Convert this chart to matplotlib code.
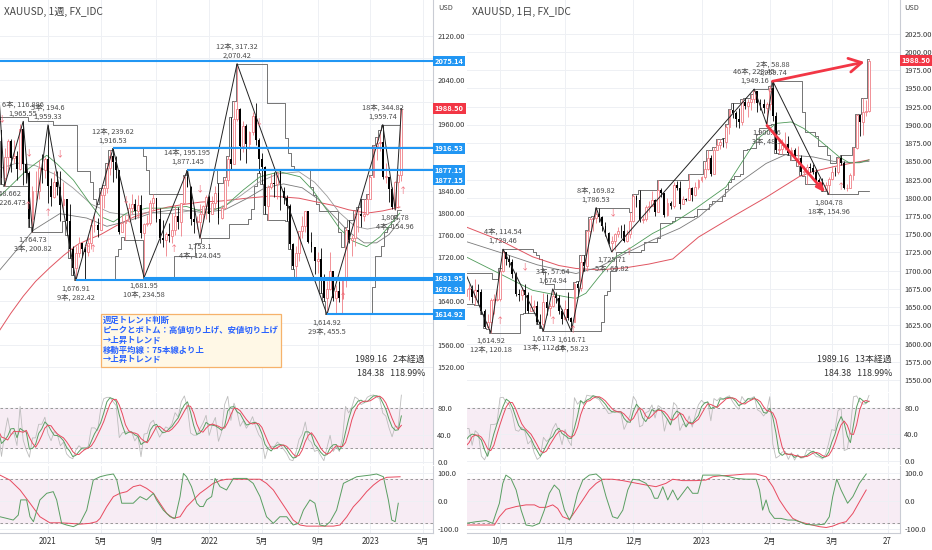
import matplotlib
matplotlib.use('Agg')
import matplotlib.pyplot as plt
import matplotlib.transforms as mtransforms
import numpy as np
import pandas as pd

plt.rcParams['font.family'] = ['Noto Sans CJK JP', 'DejaVu Sans']

# ---------------- weekly data (XAUUSD 1W) ----------------
w_open0 = 1940
w_close = [1950,1862,1900,1930,1899,1902,1879,1951,1889,1871,1788,1839,1839,1881,1877,1898,
           1849,1828,1855,1847,1813,1824,1784,1734,1700,1727,1745,1733,1728,1744,1777,1777,1769,1831,1844,1881,
           1903,1891,1877,1764,1781,1784,1808,1815,1802,1814,1763,1779,1781,1817,1827,1788,
           1754,1750,1761,1757,1768,1793,1783,1818,1864,1846,1788,1783,1783,1798,1811,1829,
           1797,1818,1835,1791,1808,1859,1898,1889,1970,1988,1921,1958,1925,1946,1975,1931,1897,1883,1811,1846,
           1853,1851,1871,1840,1827,1811,1742,1703,1727,1766,1775,1802,1747,1738,1712,1716,1675,1644,1661,1694,
           1644,1657,1644,1681,1769,1751,1754,1797,1797,1793,1798,1824,
           1865,1920,1926,1928,1865,1865,1842,1810,1856,1868,1988]
w_high = [1973,1947,1917,1933,1933,1932,1911,1960,1965.55,1892,1875,1848,1875,1896,1906,1900,
          1959.33,1863,1875,1875,1875,1855,1822,1816,1739,1740,1755,1745,1740,1758,1789,1797,1790,1845,1850,1890,
          1913,1916.53,1903,1878,1795,1795,1818,1834,1825,1832,1831,1781,1795,1823,1834,1827,
          1809,1787,1765,1781,1800,1813,1810,1818,1868,1877.145,1849,1808,1793,1815,1814,1831,
          1832,1830,1848,1853,1814,1865,1902,1974,2002,2070.42,1989,1966,1960,1948,1982,1998,1935,1909,1885,1850,
          1870,1874,1876,1879,1847,1832,1815,1745,1739,1767,1794,1802,1802,1765,1736,1729,1735,1688,1676,1729,
          1689,1669,1675,1682,1773,1787,1760,1804,1810,1824,1824,1833,
          1869,1922,1937,1949,1959.74,1890,1863,1846,1858,1870,1990]
w_low = [1930,1852,1848.66,1873,1873,1890,1860,1877,1850,1853,1774,1764.73,1823,1824,1854,1863,
         1817,1812,1826,1832,1785,1806,1760,1717,1687,1676.91,1719,1720,1678,1721,1733,1764,1756,1768,1808,1835,
         1868,1855,1862,1761,1770,1750,1783,1797,1789,1790,1753,1681.95,1775,1778,1803,1782,
         1745,1737,1721,1746,1745,1760,1771,1758,1818,1846,1778,1762,1770,1753.1,1785,1789,
         1783,1797,1806,1780,1788,1806,1849,1878,1890,1966,1895,1910,1890,1915,1940,1922,1872,1851,1798,1787,
         1842,1828,1825,1805,1816,1784,1733,1697,1681,1712,1754,1765,1745,1728,1688,1691,1654,1640,1614.92,1659,
         1640,1617,1638,1617,1665,1745,1721,1740,1765,1773,1784,1796,
         1824,1865,1896,1912,1861,1853,1819,1807,1804.78,1809,1858]

# weekly zigzag pivots (bar index, price, label)
w_piv_i = [-0.5, 2, 8, 11, 16, 25, 37, 47, 61, 65, 77, 106, 124, 128, 130]
w_piv_p = [2075.14, 1848.66, 1965.55, 1764.73, 1959.33, 1676.91, 1916.53, 1681.95, 1877.145, 1753.1,
           2070.42, 1614.92, 1959.74, 1804.78, 1988.5]
w_piv_lab = [None, "1,848.662\n2本, 226.473", "6本, 116.886\n1,965.55", "1,764.73\n3本, 200.82",
             "5本, 194.6\n1,959.33", "1,676.91\n9本, 282.42", "12本, 239.62\n1,916.53",
             "1,681.95\n10本, 234.58", "14本, 195.195\n1,877.145", "1,753.1\n4本, 124.045",
             "12本, 317.32\n2,070.42", "1,614.92\n29本, 455.5", "18本, 344.82\n1,959.74",
             "1,804.78\n4本, 154.96", None]

# weekly horizontal levels (price, start bar)
w_lvl_p = [2075.14, 1916.53, 1877.15, 1681.95, 1676.91, 1614.92]
w_lvl_s = [-2, 37, 61, 47, 25, 106]
w_lvl_lab = ["2075.14", "1916.53", "1877.15", "1681.95", "1676.91", "1614.92"]
w_lvl_labp = [2075.14, 1916.53, 1877.15, 1680.6, 1661.2, 1614.92]

# weekly moving averages
w_red_x = [0.5, 4, 8, 12, 16.6, 21, 25.3, 29, 33, 38, 43.7, 49, 54.7, 60, 65.3, 72, 80, 88, 97, 102, 108, 113, 119, 124, 129.5]
w_red_y = [1587, 1617, 1648, 1675, 1700, 1722, 1741, 1751, 1760, 1776, 1792, 1802, 1810, 1815, 1819, 1821, 1826, 1830, 1826, 1820, 1813, 1805, 1799, 1803, 1810]
w_grn_x = [0.5, 3.7, 9.1, 15.6, 18.8, 24.2, 29.5, 32.8, 37.1, 41.4, 47.8, 54.3, 60.7, 67.2, 73.6, 79, 84.4, 90.8, 97.3, 101.5, 105.9, 110.2, 114.5, 118.8, 123.1, 126.3, 129.5]
w_grn_y = [1830, 1847, 1877, 1904, 1889, 1859, 1817, 1793, 1783, 1799, 1808, 1808, 1811, 1799, 1814, 1841, 1865, 1874, 1865, 1840, 1805, 1770, 1748, 1738, 1756, 1777, 1799]
w_gya_x = [0.5, 11.3, 19.8, 28.5, 35, 42, 50, 58, 66, 73, 80, 86, 92, 98, 103, 108, 113, 118, 122, 126, 129.5]
w_gya_y = [1696, 1768, 1798, 1790, 1775, 1785, 1800, 1806, 1800, 1805, 1825, 1845, 1852, 1845, 1825, 1795, 1765, 1745, 1745, 1760, 1785]
w_gyb_x = [0.5, 6, 12, 18, 24, 30, 36, 42, 48, 56, 64, 72, 78, 84, 90, 97, 102, 106, 110, 115, 119, 124, 129.5]
w_gyb_y = [1880, 1890, 1885, 1870, 1845, 1815, 1800, 1795, 1800, 1798, 1805, 1808, 1830, 1855, 1870, 1874, 1855, 1830, 1800, 1775, 1770, 1775, 1790]

# weekly lower oscillator
w_o2g_x = [0.5, 2.7, 4.8, 6.4, 7.2, 9.1, 10.2, 11.3, 13.4, 15.6, 17.7, 18.8, 20.4, 22, 24.2, 26.3, 28.5, 30.6, 32.8, 34.9, 37.1, 38.2, 39.8, 41.4, 43.5, 45.7, 47.8, 50, 51, 53.2, 55.4, 57, 58.6, 59.7, 60.7, 62.3, 64, 65, 66.1, 67.2, 68.8, 69.9, 71.5, 73.6, 75.8, 77.9, 80.1, 82.2, 84.4, 86.5, 88.7, 90.8, 93, 95.1, 96.8, 98.4, 100.5, 102.1, 103.7, 105.4, 107, 109.1, 111.3, 113.4, 115.6, 117.7, 119.9, 122, 124.2, 125.8, 126.9, 128, 129]
w_o2g_y = [-57, -63, -69, -51, 4, 4, -57, -75, 4, 28, 34, 4, -81, -87, -93, -81, -33, 76, 88, 94, 98, 76, -8, -8, -8, 16, 4, 28, 4, -33, -57, -63, 16, 100, 88, 52, -8, -20, -20, 4, 16, 82, 52, 40, 82, 82, 82, 64, 16, -57, -81, -57, -57, -87, -81, -33, 4, -8, -87, -91, -75, -33, 64, 76, 88, 91, 94, 98, 88, 4, -69, -75, -8]
w_o2r_x = [0.5, 3.7, 7, 10.2, 13.4, 16.6, 19.9, 23.1, 26.3, 29.5, 31.7, 32.8, 34.9, 37.1, 39.2, 41.4, 43.5, 45.7, 47.8, 50, 52.1, 54.3, 56.4, 58.6, 60.7, 62.9, 65, 67.2, 69.3, 71.5, 73.6, 80.1, 84.4, 86.5, 88.7, 90.8, 93, 95.1, 97.3, 99.4, 108.1, 110.2, 112.4, 114.5, 116.6, 118.8, 121, 123.1, 125.3, 129.6]
w_o2r_y = [94, 76, 40, -8, -57, -79, -79, -81, -84, -81, -75, -63, -21, 16, 28, 34, 52, 58, 46, 28, -8, -45, -63, -57, -21, 4, 28, 46, 64, 74, 79, 79, 79, 64, 40, 4, -33, -69, -87, -91, -91, -87, -57, -21, 4, 34, 58, 76, 86, 88]

w_xtick_i = [16, 33, 51, 68, 85, 103, 120, 137]
w_xtick_lab = ["2021", "5月", "9月", "2022", "5月", "9月", "2023", "5月"]

# ---------------- daily data (XAUUSD 1D) ----------------
d_open0 = 1697
d_close = [1665,1675,1675,1664,1673,1671,1644,1622,1629,1660,1660,1661,
           1699,1725,1716,1712,1695,1668,1666,1673,1666,1644,1650,1652,1629,1627,1657,1649,1652,1665,1663,1645,1633,
           1648,1635,1630,1681,1676,1712,1706,1755,1771,1772,1778,1774,1761,1751,1738,1740,1750,1755,1754,1741,1750,1768,
           1803,1797,1769,1771,1787,1789,1797,1781,1810,1807,1777,1793,1788,1817,1814,1792,1798,1797,1814,1804,1815,1824,
           1828,1840,1855,1833,1865,1872,1877,1876,1897,1920,1916,1908,1904,1932,1926,1931,1936,1946,1930,1928,1923,1928,
           1951,1912,1865,1867,1873,1874,1861,1865,1853,1854,1836,1836,1842,1841,1835,1825,1822,1811,1817,1826,
           1836,1835,1855,1847,1813,1814,1831,1868,1913,1904,1918,1919,1988]
d_high = [1697,1678,1681,1680,1688,1681,1675,1648,1640,1662,1668,1675,
          1703,1729.46,1726,1721,1716,1698,1675,1677,1682,1671,1667,1660,1658,1640,1670,1668,1655,1674.94,1671,1666,1648,
          1660,1671,1636,1684,1686,1721,1722,1756,1774,1775,1786.53,1786,1775,1767,1753,1747,1751,1760,1762,1764,1756,1781,
          1805,1804,1810,1775,1790,1795,1809,1798,1824,1814,1805,1799,1796,1821,1823,1823,1803,1800,1833,1815,1821,1826,
          1830,1850,1865,1858,1870,1881,1880,1882,1901,1922,1930,1919,1923,1935,1937,1935,1942,1949.16,1947,1936,1935,1932,
          1953,1959.74,1918,1881,1880,1890,1885,1870,1868,1871,1858,1844,1846,1847,1846,1840,1827,1827,1822,1829,
          1843,1842,1856,1858,1851,1819,1834,1870,1915,1914,1937,1934,1990]
d_low = [1660,1654,1660,1655,1653,1656,1640,1621,1620,1614.92,1641,1659,
         1659,1698,1708,1705,1690,1665,1659,1660,1642,1642,1645,1645,1627,1621,1617.3,1639,1638,1650,1655,1640,1627,
         1632,1632,1616.71,1629,1667,1672,1700,1700,1749,1754,1765,1767,1755,1747,1736,1725.71,1728,1746,1745,1739,1739,1745,
         1767,1787,1767,1765,1768,1780,1788,1775,1780,1801,1774,1775,1785,1786,1811,1784,1792,1795,1797,1796,1802,1812,
         1822,1826,1838,1830,1833,1865,1867,1869,1868,1888,1910,1897,1896,1900,1922,1911,1920,1930,1918,1920,1916,1900.86,
         1921,1905,1861,1860,1860,1866,1859,1852,1852,1843,1831,1830,1819,1835,1832,1822,1818,1809,1809,1804.78,
         1825,1830,1833,1845,1812,1809,1813,1825,1867,1885,1886,1912,1918]

d_piv_i = [-3, 9, 13, 26, 29, 35, 43, 48, 94, 98, 100, 118, 131]
d_piv_p = [1735.1, 1614.92, 1729.46, 1617.3, 1674.94, 1616.71, 1786.53, 1725.71, 1949.16, 1900.86, 1959.74, 1804.78, 1988.5]
d_piv_lab = [None, "1,614.92\n12本, 120.18", "4本, 114.54\n1,729.46", "1,617.3\n13本, 112.16",
             "3本, 57.64\n1,674.94", "1,616.71\n6本, 58.23", "8本, 169.82\n1,786.53",
             "1,725.71\n5本, 60.82", "46本, 223.45\n1,949.16", "1,900.86\n3本, 48.3",
             "2本, 58.88\n1,959.74", "1,804.78\n18本, 154.96", None]

d_red_x = [1, 11.8, 22.5, 31, 36.5, 44, 52.6, 60, 67.7, 76, 87, 98, 108.5, 113, 120, 126, 131]
d_red_y = [1760, 1742, 1719, 1707, 1703, 1701, 1704, 1709, 1716, 1746, 1774, 1801, 1829, 1836, 1843, 1848, 1852]
d_grn_x = [1, 11.8, 22.5, 33.3, 36.5, 39.7, 44, 49.4, 54.8, 61.2, 67.7, 75, 84.9, 94.6, 101, 105.9, 110, 115, 121.4, 124.6, 128, 131]
d_grn_y = [1719, 1696, 1673, 1664, 1662, 1669, 1692, 1719, 1733, 1751, 1765, 1785, 1815, 1879, 1902, 1904, 1895, 1879, 1856, 1848, 1848, 1852]
d_gry_x = [1, 12, 24, 36.5, 44, 52.6, 61.2, 69.9, 76.2, 87.2, 97.8, 104, 113, 119.5, 126, 131]
d_gry_y = [1740, 1725, 1708, 1696, 1705, 1724, 1742, 1758, 1774, 1815, 1847, 1859, 1856, 1850, 1848, 1850]

d_o2g_x = [1, 4.3, 7.5, 9.6, 11.8, 12.9, 13.9, 15.5, 17.2, 18.8, 20.4, 22.5, 24.7, 26.3, 27.9, 29.5, 31.1, 32.8, 34.4, 35.4, 37, 38.7, 40.8, 43, 44.6, 46.2, 48.3, 49.9, 51.6, 53.2, 54.8, 56.9, 59.1, 60.7, 61.8, 62.9, 64.5, 66.1, 67.7, 69.3, 70.9, 72.5, 74.1, 75.8, 77.4, 79.5, 82.7, 86, 88.1, 91.4, 94.6, 95.7, 96.7, 97.8, 98.9, 100.5, 102.6, 104.8, 106.9, 108.6, 110.7, 113.9, 116.6, 118.2, 119.3, 120.6, 122, 124.1, 125.8, 127.9, 130.1]
d_o2g_y = [-81, -75, -71, -81, -8, 64, 94, 82, 40, -33, -87, -91, -81, -33, 28, 58, 40, -33, -69, -45, 28, 76, 94, 98, 82, 16, -57, -63, -33, 40, 79, 76, 64, 40, 10, 10, 52, 4, 40, 4, 28, 52, 28, 28, 94, 94, 94, 88, 82, 79, 79, 40, -33, 4, -39, -63, -63, -69, -69, -75, -85, -87, -84, -57, 16, 79, 40, -8, 16, 64, 98]
d_o2r_x = [1, 7.5, 10.2, 11.8, 13.9, 17.2, 20.4, 23.1, 24.7, 26.8, 29, 30.6, 32.2, 34.4, 36.5, 38.7, 40.8, 43, 45.1, 48.3, 51.6, 54.8, 59.1, 62.3, 65.5, 67.7, 70.9, 75.2, 78.4, 80.6, 82.7, 87.1, 91.4, 94.6, 97.8, 100, 102.1, 104.3, 106.4, 108.6, 111.8, 115, 117.2, 119.3, 121.5, 123.6, 125.8, 127.9, 130.1]
d_o2r_y = [-87, -87, -87, -57, -30, -20, -14, -14, -23, -23, -14, -27, -57, -67, -33, 4, 40, 64, 79, 79, 74, 67, 58, 52, 64, 79, 74, 74, 76, 88, 91, 94, 98, 98, 88, 52, 4, -33, -63, -75, -85, -93, -96, -91, -81, -75, -45, -3, 40]

d_xtick_i = [12, 33, 55, 77, 99, 119, 137]
d_xtick_lab = ["10月", "11月", "12月", "2023", "2月", "3月", "27"]

legend_text = "週足トレンド判断\nピークとボトム：高値切り上げ、安値切り上げ\n→上昇トレンド\n移動平均線：75本線より上\n→上昇トレンド"

# ---------------- styles ----------------
UPC = '#ef7f86'
BLUE = '#2196f3'
RED = '#f23645'
GRID = '#eef0f4'
TXT = '#4a4a4a'
W, H = 932, 550

fig = plt.figure(figsize=(9.32, 5.5), dpi=100)
fig.patch.set_facecolor('white')


def ax_px(x0, y0, x1, y1):
    return fig.add_axes([x0 / W, 1 - y1 / H, (x1 - x0) / W, (y1 - y0) / H])


def style(ax, xticks, xlabels=None):
    for s in ['top', 'left', 'bottom']:
        ax.spines[s].set_visible(False)
    ax.spines['right'].set_color('#c9ccd4')
    ax.spines['right'].set_linewidth(0.8)
    ax.yaxis.tick_right()
    ax.tick_params(axis='y', length=0, labelsize=5.4, colors='#333333', pad=3)
    ax.set_xticks(xticks)
    if xlabels is None:
        ax.tick_params(axis='x', length=0, labelbottom=False)
    else:
        ax.set_xticklabels(xlabels)
        ax.tick_params(axis='x', length=0, labelsize=5.8, colors='#333333', pad=3)
        ax.spines['bottom'].set_visible(True)
        ax.spines['bottom'].set_color('#c9ccd4')
    ax.grid(True, color=GRID, lw=0.7)
    ax.set_axisbelow(True)


def price_ticks(ax, ticks, boxes, px_per_unit, min_px=9.0):
    ax.set_yticks(ticks)
    labs = []
    for t in ticks:
        hidden = any(abs(t - b) * px_per_unit < min_px for b in boxes)
        labs.append('' if hidden else f'{t:.2f}')
    ax.set_yticklabels(labs)


def candles(ax, o, h, l, c, width=0.62):
    x = np.arange(len(c))
    up = c >= o
    ax.vlines(x[up], l[up], h[up], color=UPC, lw=0.6, zorder=3)
    ax.vlines(x[~up], l[~up], h[~up], color='black', lw=0.6, zorder=3)
    lo = np.minimum(o, c)
    bh = np.maximum(np.abs(c - o), 0.8)
    ax.bar(x[up], bh[up], bottom=lo[up], width=width, facecolor='white', edgecolor=UPC, linewidth=0.6, zorder=4)
    ax.bar(x[~up], bh[~up], bottom=lo[~up], width=width, color='black', linewidth=0, zorder=4)


def channel(ax, h, l, n):
    x = np.arange(len(h))
    hh = pd.Series(h).rolling(n, min_periods=1).max()
    ll = pd.Series(l).rolling(n, min_periods=1).min()
    ax.plot(x, hh, drawstyle='steps-mid', color='#505050', lw=0.55, zorder=2)
    ax.plot(x, ll, drawstyle='steps-mid', color='#505050', lw=0.55, zorder=2)


def stoch_lines(ax, h, l, c, n=14):
    x = np.arange(len(c))
    hh = pd.Series(h).rolling(n, min_periods=1).max()
    ll = pd.Series(l).rolling(n, min_periods=1).min()
    k = 100 * (pd.Series(c) - ll) / (hh - ll)
    dd = k.rolling(3, min_periods=1).mean()
    ss = dd.rolling(3, min_periods=1).mean()
    ax.plot(x, k, color='#bdbdbd', lw=0.6)
    ax.plot(x, dd, color='#5a9e62', lw=0.7)
    ax.plot(x, ss, color='#e84a5f', lw=0.7)


def pivot_labels(ax, xs, ps, labs):
    for xi, pi, lab in zip(xs, ps, labs):
        if lab is None:
            continue
        above = not lab.split('\n')[0].startswith(('1,', '2,'))
        ax.annotate(lab, (xi, pi), xytext=(0, 3 if above else -3), textcoords='offset points',
                    ha='center', va='bottom' if above else 'top', fontsize=5.3, color=TXT,
                    linespacing=1.15, zorder=8, annotation_clip=False)


def axis_box(ax, y, text, fc):
    tr = mtransforms.blended_transform_factory(ax.transAxes, ax.transData)
    ax.text(1.004, y, text, transform=tr, ha='left', va='center', fontsize=5.4, color='white',
            fontweight='bold', clip_on=False, zorder=20,
            bbox=dict(boxstyle='square,pad=0.25', fc=fc, ec='none'))


def osc_panes(ax1, ax2, xlim, xticks, xlabels, y1lim, y2lim):
    for ax in (ax1, ax2):
        ax.set_xlim(*xlim)
    ax1.set_ylim(*y1lim)
    ax2.set_ylim(*y2lim)
    style(ax1, xticks)
    style(ax2, xticks, xlabels)
    ax1.axhspan(20, 80, color='#f7ecf4', zorder=0)
    ax2.axhspan(-80, 80, color='#f7ecf4', zorder=0)
    for v in (20, 80):
        ax1.axhline(v, color='#8a8a8a', lw=0.6, ls=(0, (3, 3)))
    for v in (-80, 80):
        ax2.axhline(v, color='#8a8a8a', lw=0.6, ls=(0, (3, 3)))
    ax1.set_yticks([0, 40, 80])
    ax1.set_yticklabels(['0.0', '40.0', '80.0'])
    ax2.set_yticks([-100, 0, 100])
    ax2.set_yticklabels(['-100.0', '0.0', '100.0'])


# ================= LEFT: weekly =================
wc = np.array(w_close, float)
wh = np.array(w_high, float)
wl = np.array(w_low, float)
wo = np.concatenate([[w_open0], wc[:-1]])
wh = np.maximum(wh, np.maximum(wo, wc))
wl = np.minimum(wl, np.minimum(wo, wc))
WXL = (0.52, 140.2)

axL = ax_px(0, 0, 433, 392)
axL.set_xlim(*WXL)
axL.set_ylim(1474.2, 2185.9)
style(axL, w_xtick_i)
w_boxes = w_lvl_labp + [1859.0, 1988.5]
price_ticks(axL, np.arange(1520, 2121, 40), w_boxes, 392 / (2185.9 - 1474.2))

channel(axL, wh, wl, 10)
axL.plot(w_red_x, w_red_y, color='#e05561', lw=0.7, zorder=2)
axL.plot(w_gya_x, w_gya_y, color='#7a7a7a', lw=0.6, zorder=2)
axL.plot(w_gyb_x, w_gyb_y, color='#9a9a9a', lw=0.6, zorder=2)
axL.plot(w_grn_x, w_grn_y, color='#4e9a58', lw=0.6, zorder=2)
candles(axL, wo, wh, wl, wc)
axL.plot(w_piv_i, w_piv_p, color='#222222', lw=0.7, zorder=5)
for p, s in zip(w_lvl_p, w_lvl_s):
    axL.hlines(p, s, WXL[1], color=BLUE, lw=1.5, zorder=6)
pivot_labels(axL, w_piv_i, w_piv_p, w_piv_lab)
for p, t in zip(w_lvl_labp, w_lvl_lab):
    axis_box(axL, p, t, BLUE)
axis_box(axL, 1859.0, "1877.15", BLUE)
axis_box(axL, 1988.5, "1988.50", RED)

# signal arrows (weekly)
w_sig = [(1, 1970, '↓'), (10, 1908, '↓'), (20, 1906, '↓'), (9.5, 1812, '↑'), (16, 1801, '↑'),
         (30.5, 1735, '↑'), (28.5, 1735, '↑'), (41, 1823, '↓'), (65, 1844, '↓'), (56.5, 1735, '↑'),
         (84, 1965, '↓'), (111, 1648, '↑'), (130.5, 1840, '↑')]
for xi, yi, ch in w_sig:
    axL.text(xi, yi, ch, color='#f06a78', fontsize=6, ha='center', va='center', zorder=7)

axLo1 = ax_px(0, 393, 433, 464)
axLo2 = ax_px(0, 466, 433, 533)
osc_panes(axLo1, axLo2, WXL, w_xtick_i, w_xtick_lab, (-3.0, 102.2), (-116, 127))
stoch_lines(axLo1, wh, wl, wc)
axLo2.plot(w_o2r_x, w_o2r_y, color='#e84a5f', lw=0.7)
axLo2.plot(w_o2g_x, w_o2g_y, color='#5a9e62', lw=0.7)

# ================= RIGHT: daily =================
dc = np.array(d_close, float)
dh = np.array(d_high, float)
dl = np.array(d_low, float)
do = np.concatenate([[d_open0], dc[:-1]])
dh = np.maximum(dh, np.maximum(do, dc))
dl = np.minimum(dl, np.minimum(do, dc))
DXL = (1.35, 141.0)

axR = ax_px(467, 0, 900, 392)
axR.set_xlim(*DXL)
axR.set_ylim(1533.5, 2071.3)
style(axR, d_xtick_i)
price_ticks(axR, np.arange(1550, 2026, 25), [1988.5], 392 / (2071.3 - 1533.5), min_px=6.0)

channel(axR, dh, dl, 10)
axR.plot(d_red_x, d_red_y, color='#e05561', lw=0.7, zorder=2)
axR.plot(d_gry_x, d_gry_y, color='#7a7a7a', lw=0.6, zorder=2)
axR.plot(d_grn_x, d_grn_y, color='#4e9a58', lw=0.6, zorder=2)
candles(axR, do, dh, dl, dc, width=0.6)
axR.plot(d_piv_i[:-1], d_piv_p[:-1], color='#222222', lw=0.7, zorder=5)
pivot_labels(axR, d_piv_i, d_piv_p, d_piv_lab)
axis_box(axR, 1988.5, "1988.50", RED)

# red trend arrows
axR.annotate('', xy=(130.4, 1987), xytext=(99, 1959),
             arrowprops=dict(arrowstyle='->,head_length=0.9,head_width=0.5', color=RED, lw=2.0), zorder=9)
axR.annotate('', xy=(117.5, 1804), xytext=(97.5, 1902),
             arrowprops=dict(arrowstyle='-|>,head_length=0.5,head_width=0.2', color=RED, lw=2.0), zorder=9)

d_sig = [(12, 1632, '↑'), (29, 1632, '↑'), (35.5, 1619, '↑'), (20, 1705, '↓'), (48.5, 1779, '↓'),
         (53.5, 1726, '↑'), (99, 1950, '↓'), (122, 1815, '↑')]
for xi, yi, ch in d_sig:
    axR.text(xi, yi, ch, color='#f06a78', fontsize=6, ha='center', va='center', zorder=7)

axRo1 = ax_px(467, 393, 900, 464)
axRo2 = ax_px(467, 466, 900, 533)
osc_panes(axRo1, axRo2, DXL, d_xtick_i, d_xtick_lab, (-5.0, 102.6), (-116, 127))
stoch_lines(axRo1, dh, dl, dc)
axRo2.plot(d_o2r_x, d_o2r_y, color='#e84a5f', lw=0.7)
axRo2.plot(d_o2g_x, d_o2g_y, color='#5a9e62', lw=0.7)

# ================= texts =================
fig.text(4 / W, 1 - 12 / H, 'XAUUSD, 1週, FX_IDC', fontsize=7.3, color='#444444', va='center')
fig.text(472 / W, 1 - 12 / H, 'XAUUSD, 1日, FX_IDC', fontsize=7.3, color='#444444', va='center')
fig.text(438 / W, 1 - 8 / H, 'USD', fontsize=5.3, color='#444444', va='center')
fig.text(904 / W, 1 - 8 / H, 'USD', fontsize=5.3, color='#444444', va='center')

fig.text(425 / W, 1 - 359 / H, '1989.16   2本経過', fontsize=6.4, color='#333333', ha='right', va='center')
fig.text(425 / W, 1 - 373 / H, '184.38   118.99%', fontsize=6.4, color='#333333', ha='right', va='center')
fig.text(892 / W, 1 - 359 / H, '1989.16   13本経過', fontsize=6.4, color='#333333', ha='right', va='center')
fig.text(892 / W, 1 - 373 / H, '184.38   118.99%', fontsize=6.4, color='#333333', ha='right', va='center')

fig.text(103 / W, 1 - 316 / H, legend_text, fontsize=6.0, color='#2962ff', fontweight='bold',
         ha='left', va='top', linespacing=1.12,
         bbox=dict(boxstyle='square,pad=0.3', fc='#fff8e6', ec='#f6b26b', lw=0.9))

fig.savefig('out.png', dpi=100, facecolor='white')
